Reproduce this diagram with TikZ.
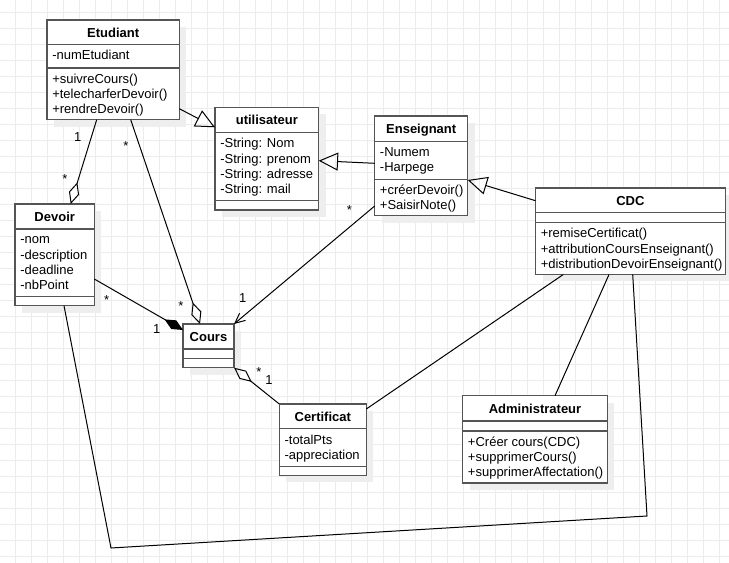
\documentclass[tikz,border=0pt]{standalone}
\usepackage{fontspec}
\setmainfont{Liberation Sans}
\usetikzlibrary{arrows.meta,calc}

\definecolor{gridc}{RGB}{236,236,236}
\definecolor{shadowc}{RGB}{238,238,238}
\definecolor{boxc}{RGB}{85,85,85}

% class box: name, x0, y0, x1, y1, header line y, separator line y
\newcommand\umlclass[7]{%
  \fill[shadowc] ({#2+7},{#3+7}) rectangle ({#4+7},{#5+7});
  \node[umlbox, minimum width={(#4-#2)*0.75pt}, minimum height={(#5-#3)*0.75pt}] (#1) at (#2,#3) {};
  \draw[sepline] (#2,#6) -- (#4,#6);
  \draw[sepline] (#2,#7) -- (#4,#7);
}

\begin{document}
\begin{tikzpicture}[x=0.75pt,y=-0.75pt,
  gridline/.style={draw=gridc,line width=0.75pt},
  umlbox/.style={draw=boxc,fill=white,line width=0.95pt,rectangle,inner sep=0pt,outer sep=0pt,anchor=north west},
  sepline/.style={draw=boxc,line width=0.95pt},
  title/.style={font=\fontsize{9.75pt}{11pt}\selectfont\bfseries,inner sep=0pt,anchor=base},
  member/.style={font=\fontsize{9.75pt}{11pt}\selectfont,inner sep=0pt,anchor=base west},
  mult/.style={font=\fontsize{9.75pt}{11pt}\selectfont,inner sep=0pt,anchor=base},
  conn/.style={draw=black,line width=0.75pt},
  gen/.style={conn,-{Triangle[open,length=14.5pt,width=13.5pt]}},
  agg/.style={conn,-{Diamond[open,length=17pt,width=7.9pt]}},
  comp/.style={conn,-{Diamond[length=16pt,width=7.5pt]}},
  nav/.style={conn,-{Straight Barb[length=7.5pt,width=7pt]}},
]
\useasboundingbox (0,0) rectangle (729,563);
\fill[white] (0,0) rectangle (729,563);

% background grid
\foreach \k in {-1,...,44} \draw[gridline] ({15.3+16*\k},0) -- ({15.3+16*\k},563);
\foreach \k in {-1,...,34} \draw[gridline] (0,{12.3+16*\k}) -- (729,{12.3+16*\k});

% classes
\umlclass{etu}{47}{20}{179.3}{119.7}{44.7}{68}
\umlclass{uti}{215}{107.3}{318.7}{210}{132.7}{200.7}
\umlclass{ens}{374.7}{116}{467.7}{215.7}{141.3}{179.3}
\umlclass{cdc}{535.5}{188}{725.3}{274.5}{212.7}{222.7}
\umlclass{dev}{15}{204}{94.3}{305.7}{229}{296.7}
\umlclass{cou}{183}{324}{234}{367.7}{349}{358.3}
\umlclass{cer}{279.3}{404}{366.3}{475.3}{428.7}{466.7}
\umlclass{adm}{462.7}{395.7}{607.3}{483}{421}{431}

% class names
\node[title] (etu-t) at (113.2,37.3) {Etudiant};
\node[title] (uti-t) at (266.9,124.6) {utilisateur};
\node[title] (ens-t) at (421.2,133.3) {Enseignant};
\node[title] (cdc-t) at (630.4,205.3) {CDC};
\node[title] (dev-t) at (54.7,221.3) {Devoir};
\node[title] (cou-t) at (208.5,341.3) {Cours};
\node[title] (cer-t) at (322.8,421.3) {Certificat};
\node[title] (adm-t) at (535,413) {Administrateur};

% attributes and operations
\node[member] (etu-a1) at (52,60) {-numEtudiant};
\foreach \t [count=\i] in {+suivreCours(),+telecharferDevoir(),+rendreDevoir()}
  \node[member] (etu-m\i) at (52,{83.3+15.3*(\i-1)}) {\t};
\foreach \t [count=\i] in {-String: Nom,-String: prenom,-String: adresse,-String: mail}
  \node[member] (uti-a\i) at (220,{148+15.3*(\i-1)}) {\t};
\foreach \t [count=\i] in {-Numem,-Harpege}
  \node[member] (ens-a\i) at (379.7,{156.6+15.3*(\i-1)}) {\t};
\foreach \t [count=\i] in {+créerDevoir(),+SaisirNote()}
  \node[member] (ens-m\i) at (379.7,{194.6+15.3*(\i-1)}) {\t};
\foreach \t [count=\i] in {+remiseCertificat(),+attributionCoursEnseignant(),+distributionDevoirEnseignant()}
  \node[member] (cdc-m\i) at (540.5,{237.8+15.3*(\i-1)}) {\t};
\foreach \t [count=\i] in {-nom,-description,-deadline,-nbPoint}
  \node[member] (dev-a\i) at (20,{244+15.3*(\i-1)}) {\t};
\foreach \t [count=\i] in {-totalPts,-appreciation}
  \node[member] (cer-a\i) at (284.3,{444+15.3*(\i-1)}) {\t};
\foreach \t [count=\i] in {+Créer cours(CDC),+supprimerCours(),+supprimerAffectation()}
  \node[member] (adm-m\i) at (467.7,{446.3+15.3*(\i-1)}) {\t};

% bend points of the long link
\coordinate (bendA) at (647,516);
\coordinate (bendB) at (111,548);

% relations
\draw[gen] ($(etu.north east)+(0,88.7)$) -- ($(uti.north west)+(0,20)$);
\draw[gen] ($(ens.north west)+(0,47.3)$) -- ($(uti.north east)+(0,53.4)$);
\draw[gen] ($(cdc.north west)+(0,12.7)$) -- ($(ens.north east)+(0,64)$);
\draw[agg] ($(etu.south west)+(49.7,0)$) -- ($(dev.north west)+(55.7,0)$);
\draw[agg] ($(etu.south west)+(83.7,0)$) -- ($(cou.north west)+(17,0)$);
\draw[comp] ($(dev.north east)+(0,75)$) -- ($(cou.north west)+(0,6)$);
\draw[nav] ($(ens.south west)+(0,-9.7)$) -- (cou.north east);
\draw[agg] (cer.north west) -- (cou.south east);
\draw[conn] ($(cdc.south west)+(27.8,0)$) -- ($(cer.north east)+(0,5)$);
\draw[conn] ($(cdc.south west)+(73.5,0)$) -- ($(adm.north west)+(92.3,0)$);
\draw[conn] ($(cdc.south west)+(97.2,0)$) -- (bendA) -- (bendB) -- ($(dev.south west)+(49,0)$);

% multiplicities
\node[mult] (m1) at (77.7,141.3) {1};
\node[mult] (m2) at (65,183.2) {*};
\node[mult] (m3) at (126,150.2) {*};
\node[mult] (m4) at (181,310.8) {*};
\node[mult] (m5) at (106.7,304.8) {*};
\node[mult] (m6) at (156.7,334) {1};
\node[mult] (m7) at (349.3,214.8) {*};
\node[mult] (m8) at (242.7,303) {1};
\node[mult] (m9) at (259,376.8) {*};
\node[mult] (m10) at (269,384) {1};
\end{tikzpicture}
\end{document}
